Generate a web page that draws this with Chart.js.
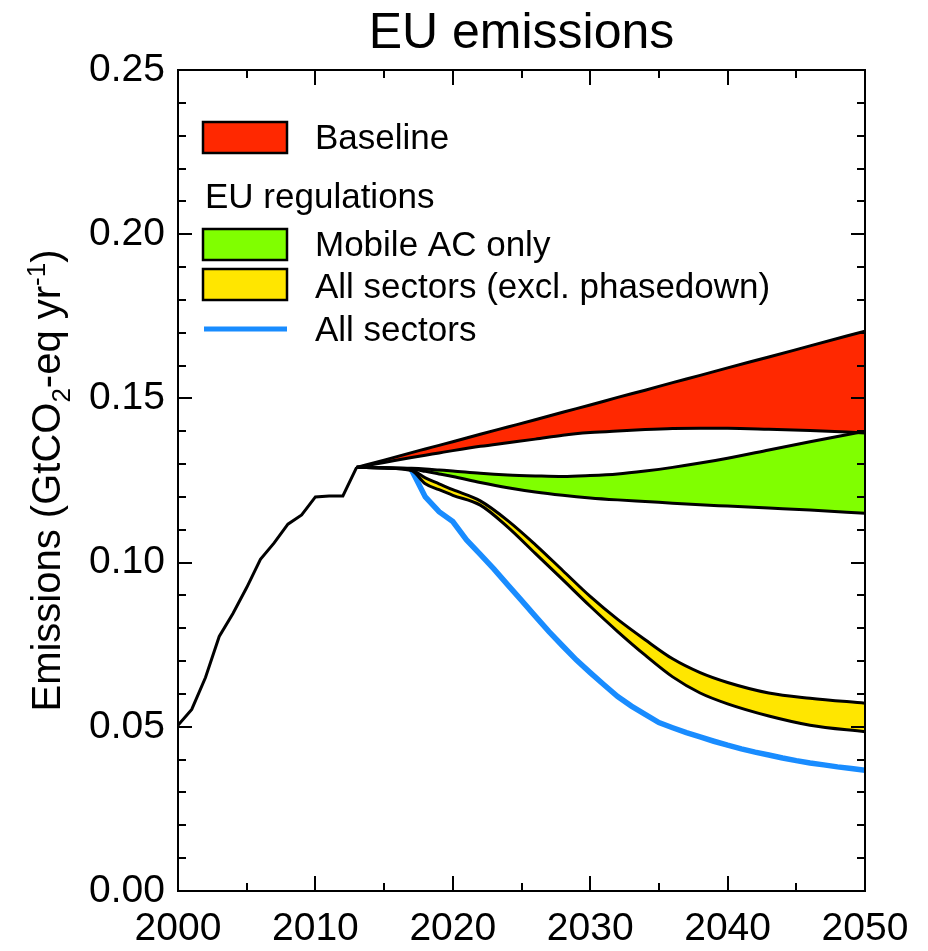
<!DOCTYPE html>
<html><head><meta charset="utf-8">
<script src="https://cdn.jsdelivr.net/npm/chart.js@4.4.1/dist/chart.umd.min.js"></script>
<style>html,body{margin:0;padding:0;background:#fff}#wrap{width:928px;height:951px;position:relative}</style>
</head><body><div id="wrap"><canvas id="c" width="928" height="951"></canvas></div>
<script>
// ---- data ----
const histYears  = [2000,2001,2002,2003,2004,2005,2006,2007,2008,2009,2010,2011,2012,2013];
const histValues = [0.0505,0.0553,0.0650,0.0775,0.0845,0.0924,0.1010,0.1060,0.1117,0.1145,0.1200,0.1203,0.1203,0.1290];

const projYears    = [2013,2015,2017,2018,2019,2020,2022,2024,2026,2028,2030,2032,2034,2036,2038,2040,2043,2046,2050];
const baselineHigh = [0.1290,0.1312,0.1335,0.1346,0.1357,0.1368,0.1391,0.1413,0.1435,0.1458,0.1480,0.1503,0.1525,0.1548,0.1570,0.1593,0.1626,0.1660,0.1705];
const baselineLow  = [0.1290,0.1305,0.1320,0.1327,0.1334,0.1341,0.1354,0.1365,0.1376,0.1388,0.1396,0.1401,0.1405,0.1408,0.1409,0.1409,0.1406,0.1402,0.1395];
const mobileAcHigh = [0.1290,0.1289,0.1287,0.1285,0.1282,0.1279,0.1272,0.1267,0.1264,0.1262,0.1265,0.1270,0.1279,0.1290,0.1303,0.1318,0.1343,0.1368,0.1400];
const mobileAcLow  = [0.1290,0.1289,0.1285,0.1278,0.1270,0.1262,0.1244,0.1228,0.1215,0.1205,0.1197,0.1191,0.1186,0.1181,0.1176,0.1172,0.1166,0.1160,0.1150];
const allExclHigh  = [0.1290,0.1288,0.1282,0.1258,0.1240,0.1222,0.1188,0.1128,0.1055,0.0976,0.0897,0.0827,0.0765,0.0707,0.0665,0.0635,0.0603,0.0587,0.0572];
const allExclLow   = [0.1290,0.1288,0.1280,0.1240,0.1222,0.1205,0.1175,0.1108,0.1028,0.0948,0.0867,0.0790,0.0718,0.0652,0.0603,0.0570,0.0533,0.0505,0.0485];

const allSectorsYears  = [2017,2018,2019,2020,2021,2022,2023,2024,2025,2026,2027,2028,2029,2030,2031,2032,2033,2034,2035,2036,2037,2038,2039,2040,2041,2042,2043,2044,2045,2046,2047,2048,2049,2050];
const allSectorsValues = [0.1282,0.1200,0.1155,0.1125,0.1069,0.1025,0.0980,0.0932,0.0885,0.0837,0.0790,0.0746,0.0703,0.0665,0.0628,0.0592,0.0563,0.0538,0.0513,0.0497,0.0482,0.0469,0.0456,0.0444,0.0433,0.0423,0.0414,0.0405,0.0397,0.0390,0.0384,0.0378,0.0373,0.0368];

const xTickLabels = ['2000','2010','2020','2030','2040','2050'];
const yTickLabels = ['0.00','0.05','0.10','0.15','0.20','0.25'];
const legendLabels = ['Baseline','EU regulations','Mobile AC only','All sectors (excl. phasedown)','All sectors'];
const titleText = 'EU emissions';

// ---- styles ----
const FONT = '"Liberation Sans", Arial, Helvetica, sans-serif';
const RED = 'rgb(255,40,0)', GREEN = 'rgb(128,255,0)', YELLOW = 'rgb(255,230,0)', BLUE = 'rgb(25,140,255)';

const pts = (xs, ys) => xs.map((x, i) => ({x, y: ys[i]}));
const band = (label, data, fill, color) => ({
  label, data, fill: fill === null ? false : {target: fill}, backgroundColor: color,
  borderColor: '#000', borderWidth: 3, pointRadius: 0, cubicInterpolationMode: 'monotone'
});

const frameTicks = {
  id: 'frameTicks',
  afterDatasetsDraw(chart) {
    const {ctx, chartArea: a, scales} = chart;
    ctx.save();
    ctx.strokeStyle = '#000'; ctx.lineWidth = 2;
    ctx.strokeRect(a.left, a.top, a.right - a.left, a.bottom - a.top);
    ctx.beginPath();
    for (let i = 0; i <= 25; i++) {
      const y = Math.round(scales.y.getPixelForValue(i / 100)) ;
      const len = i % 5 === 0 ? 14 : 8;
      ctx.moveTo(a.left, y); ctx.lineTo(a.left + len, y);
      ctx.moveTo(a.right, y); ctx.lineTo(a.right - len, y);
    }
    for (let yr = 2000; yr <= 2050; yr += 5) {
      const x = Math.round(scales.x.getPixelForValue(yr));
      const len = yr % 10 === 0 ? 15 : 8;
      ctx.moveTo(x, a.bottom); ctx.lineTo(x, a.bottom - len);
      ctx.moveTo(x, a.top); ctx.lineTo(x, a.top + len);
    }
    ctx.stroke();
    ctx.restore();
  },
  afterDraw(chart) {
    const {ctx, chartArea: a} = chart;
    ctx.save();
    ctx.fillStyle = '#000';
    // title
    ctx.font = '50px ' + FONT;
    ctx.textAlign = 'center'; ctx.textBaseline = 'middle';
    ctx.fillText(titleText, (a.left + a.right) / 2, 34);
    // y axis title with sub/superscript
    const fs = 40, small = 26;
    const parts = [
      {t: 'Emissions (GtCO', f: fs, dy: 0},
      {t: '2', f: small, dy: 10},
      {t: '-eq yr', f: fs, dy: 0},
      {t: '-1', f: small, dy: -15},
      {t: ')', f: fs, dy: 0}
    ];
    let total = 0;
    parts.forEach(p => { ctx.font = p.f + 'px ' + FONT; p.w = ctx.measureText(p.t).width; total += p.w; });
    ctx.translate(46, (a.top + a.bottom) / 2);
    ctx.rotate(-Math.PI / 2);
    ctx.textAlign = 'left'; ctx.textBaseline = 'alphabetic';
    let x = -total / 2;
    parts.forEach(p => { ctx.font = p.f + 'px ' + FONT; ctx.fillText(p.t, x, 14 + p.dy); x += p.w; });
    ctx.restore();

    // legend
    ctx.save();
    ctx.font = '35px ' + FONT;
    ctx.textAlign = 'left'; ctx.textBaseline = 'middle';
    ctx.fillStyle = '#000';
    const box = (y, color) => {
      ctx.fillStyle = color; ctx.fillRect(203, y, 84, 31);
      ctx.strokeStyle = '#000'; ctx.lineWidth = 2.5; ctx.strokeRect(203, y, 84, 31);
      ctx.fillStyle = '#000';
    };
    box(122, RED);   ctx.fillText(legendLabels[0], 315, 139);
    ctx.fillText(legendLabels[1], 205, 198);
    box(229, GREEN); ctx.fillText(legendLabels[2], 315, 246);
    box(269, YELLOW); ctx.fillText(legendLabels[3], 315, 288);
    ctx.strokeStyle = BLUE; ctx.lineWidth = 5;
    ctx.beginPath(); ctx.moveTo(204, 329); ctx.lineTo(287, 329); ctx.stroke();
    ctx.fillText(legendLabels[4], 315, 331);
    ctx.restore();
  }
};

new Chart(document.getElementById('c'), {
  type: 'line',
  data: {
    datasets: [
      {label: 'Historical', data: pts(histYears, histValues), borderColor: '#000', borderWidth: 3, pointRadius: 0, fill: false},
      band('Baseline high', pts(projYears, baselineHigh), 2, RED),
      band('Baseline low', pts(projYears, baselineLow), null, RED),
      band('Mobile AC only high', pts(projYears, mobileAcHigh), 4, GREEN),
      band('Mobile AC only low', pts(projYears, mobileAcLow), null, GREEN),
      band('All sectors (excl. phasedown) high', pts(projYears, allExclHigh), 6, YELLOW),
      band('All sectors (excl. phasedown) low', pts(projYears, allExclLow), null, YELLOW),
      {label: 'All sectors', data: pts(allSectorsYears, allSectorsValues), borderColor: BLUE, borderWidth: 5.5, pointRadius: 0, fill: false}
    ]
  },
  options: {
    responsive: false, animation: false, devicePixelRatio: 1,
    layout: {padding: {top: 70, right: 63, left: 0, bottom: 0}},
    plugins: {
      legend: {display: false}, tooltip: {enabled: false}, title: {display: false},
      filler: {propagate: false, drawTime: 'beforeDatasetsDraw'}
    },
    scales: {
      x: {
        type: 'linear', min: 2000, max: 2050,
        grid: {display: false, drawTicks: false}, border: {display: false},
        ticks: {stepSize: 10, autoSkip: false, maxRotation: 0, color: '#000', padding: 15,
          font: {size: 39, family: FONT},
          callback: (v) => xTickLabels[Math.round((v - 2000) / 10)]},
        afterFit: (s) => { s.height = 60; }
      },
      y: {
        min: 0, max: 0.25,
        grid: {display: false, drawTicks: false}, border: {display: false},
        ticks: {stepSize: 0.05, color: '#000', padding: 13,
          font: {size: 39, family: FONT},
          callback: (v) => yTickLabels[Math.round(v / 0.05)]},
        afterFit: (s) => { s.width = 178; }
      }
    }
  },
  plugins: [frameTicks]
});
</script></body></html>
